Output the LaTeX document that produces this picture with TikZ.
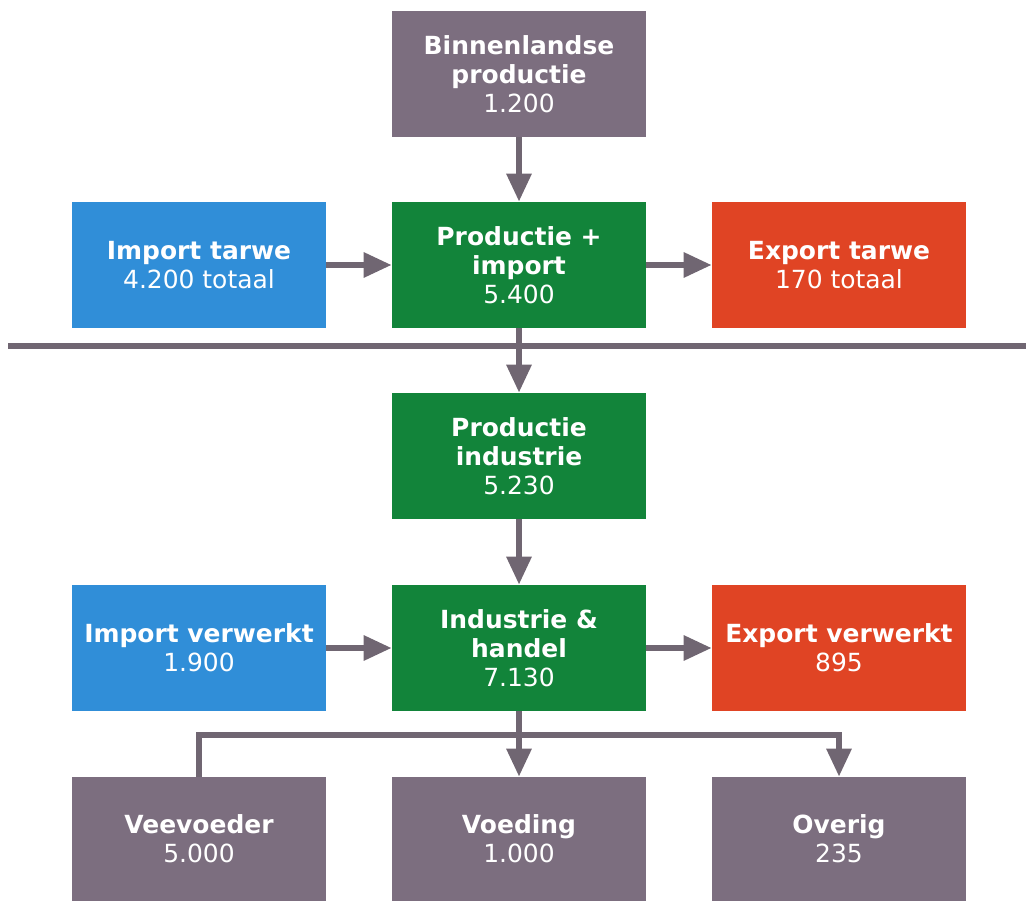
\documentclass[tikz,border=0pt]{standalone}
\usepackage{fontspec}
\setmainfont{DejaVu Sans}
\usetikzlibrary{arrows.meta}
\definecolor{boxgrey}{RGB}{124,110,127}
\definecolor{boxgreen}{RGB}{18,132,58}
\definecolor{boxblue}{RGB}{48,142,216}
\definecolor{boxred}{RGB}{224,68,36}
\definecolor{linegrey}{RGB}{112,102,114}

\begin{document}
\begin{tikzpicture}[
x=0.02cm, y=-0.02cm,
flowbox/.style={rectangle,minimum width=5.08cm,minimum height=2.52cm,inner sep=0pt,
  text=white,align=center,font=\fontsize{14.2}{16.5}\selectfont},
greybox/.style={flowbox,fill=boxgrey},
greenbox/.style={flowbox,fill=boxgreen},
bluebox/.style={flowbox,fill=boxblue},
redbox/.style={flowbox,fill=boxred},
link/.style={draw=linegrey,line width=0.12cm},
flow/.style={link,-{Triangle[length=0.56cm,width=0.48cm]}}
]
\clip (0,0) rectangle (1026,901);

\node[greybox] (binnen) at (519,74) {\textbf{Binnenlandse}\\\textbf{productie}\\1.200};
\node[greenbox] (prodimp) at (519,265) {\textbf{Productie +}\\\textbf{import}\\5.400};
\node[bluebox] (imptarwe) at (199,265) {\textbf{Import tarwe}\\4.200 totaal};
\node[redbox] (exptarwe) at (839,265) {\textbf{Export tarwe}\\170 totaal};

\node[greenbox] (prodind) at (519,456) {\textbf{Productie}\\\textbf{industrie}\\5.230};
\node[greenbox] (handel) at (519,648) {\textbf{Industrie \&}\\\textbf{handel}\\7.130};
\node[bluebox] (impverw) at (199,648) {\textbf{Import verwerkt}\\1.900};
\node[redbox] (expverw) at (839,648) {\textbf{Export verwerkt}\\895};

\node[greybox,minimum height=2.48cm] (veevoeder) at (199,839) {\textbf{Veevoeder}\\5.000};
\node[greybox,minimum height=2.48cm] (voeding) at (519,839) {\textbf{Voeding}\\1.000};
\node[greybox,minimum height=2.48cm] (overig) at (839,839) {\textbf{Overig}\\235};

% separator
\coordinate (sepL) at (8,346);
\coordinate (sepR) at (1026,346);
\draw[link] (sepL) -- (sepR);

\draw[flow] (binnen) -- (prodimp);
\draw[flow] (imptarwe) -- (prodimp);
\draw[flow] (prodimp) -- (exptarwe);
\draw[flow] (prodimp) -- (prodind);
\draw[flow] (prodind) -- (handel);
\draw[flow] (impverw) -- (handel);
\draw[flow] (handel) -- (expverw);

% split to the three uses
\coordinate (split) at (519,735);
\draw[flow] (handel) -- (voeding);
\draw[link] (split) -| (veevoeder);
\draw[flow] (split) -| (overig);
\end{tikzpicture}
\end{document}
